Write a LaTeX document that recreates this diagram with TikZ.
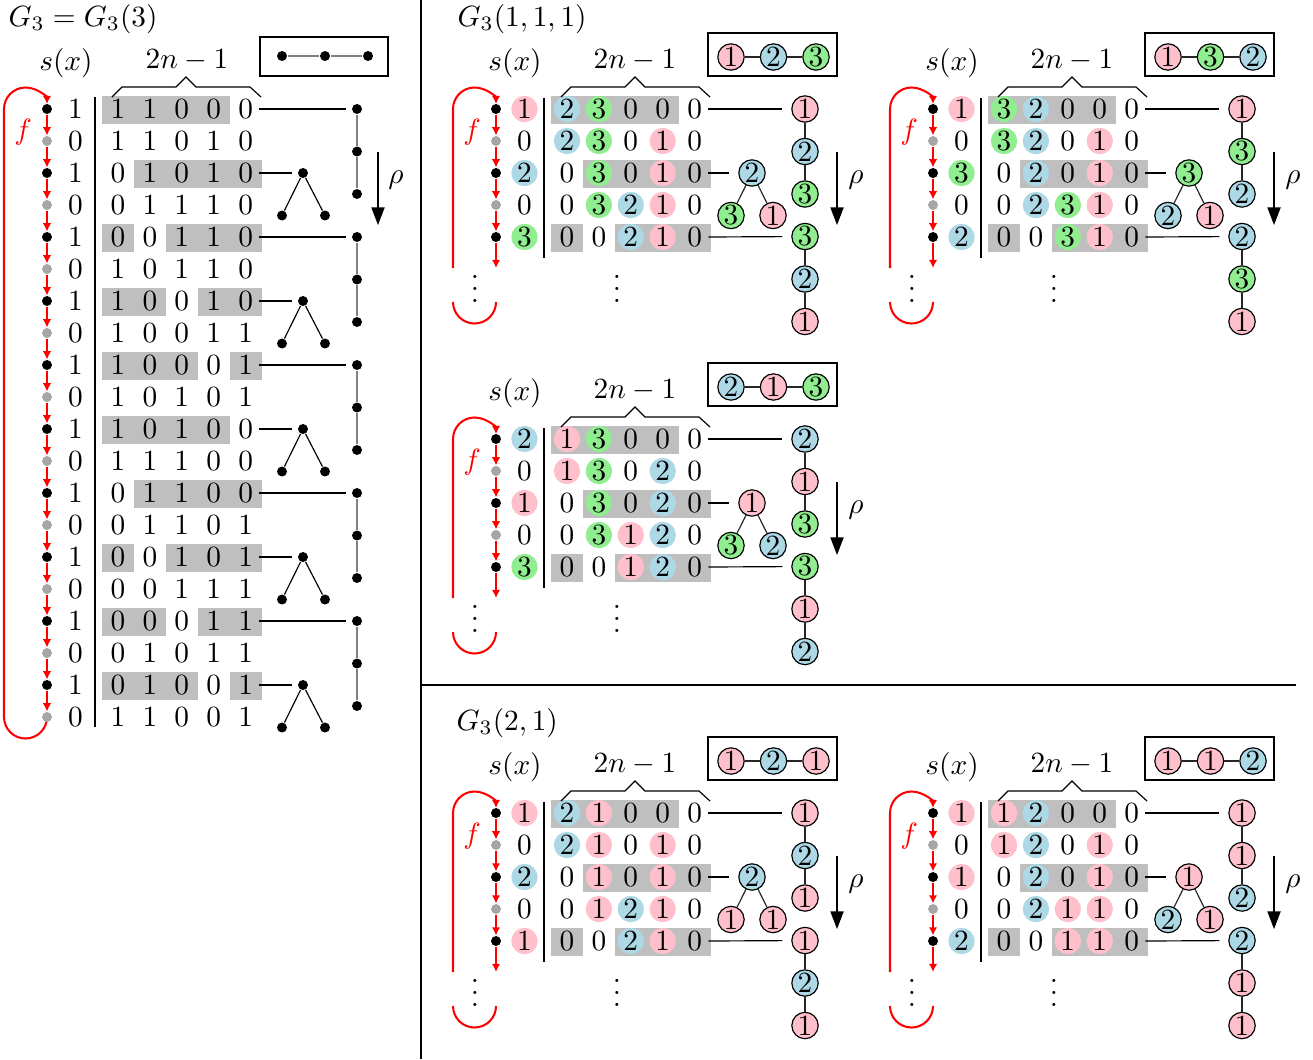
\documentclass[tikz,border=0pt]{standalone}
\usetikzlibrary{arrows.meta}
\definecolor{pinkc}{RGB}{255,192,203}
\definecolor{bluec}{RGB}{173,216,230}
\definecolor{greenc}{RGB}{144,238,144}
\pgfdeclarelayer{bg}
\pgfsetlayers{bg,main}
\newcommand\myvdots{\vbox{\baselineskip4pt\lineskiplimit0pt\hbox{.}\hbox{.}\hbox{.}}}
\tikzset{
  cell/.style={circle,inner sep=0pt,minimum size=9pt},
  tv0/.style={cell},
  tv1/.style={cell,fill=pinkc},
  tv2/.style={cell,fill=bluec},
  tv3/.style={cell,fill=greenc},
  gv1/.style={cell,draw,fill=pinkc},
  gv2/.style={cell,draw,fill=bluec},
  gv3/.style={cell,draw,fill=greenc},
  dotb/.style={circle,fill=black,inner sep=0pt,minimum size=3.4pt},
  dotg/.style={circle,fill=gray!70,inner sep=0pt,minimum size=3.4pt},
  redln/.style={red,line width=0.7pt},
  redarr/.style={red,line width=0.7pt,-{Latex[length=2.8pt,width=2.9pt]}},
  shadecell/.style={fill=gray!50},
  rhoarr/.style={-{Triangle[length=6pt,width=4.5pt]}},
  gbox/.style={thick},
  ledge/.style={gray},
  sedge/.style={black!85},
  lbl/.style={inner sep=0pt},
}

% #1 shift, #2 prefix, #3 s-list, #4 table rows, #5 path list, #6 apex, #7 left leaf, #8 right leaf, #9 box list
\newcommand\subpanel[9]{%
\begin{scope}[shift={#1}]
  \fill[shadecell] (55,13) rectangle (183,-15);
  \fill[shadecell] (87,-51) rectangle (215,-79);
  \fill[shadecell] (55,-115) rectangle (87,-143);
  \fill[shadecell] (119,-115) rectangle (215,-143);
  \foreach \row [count=\ri] in {#4}{%
    \foreach \vv [count=\ci] in \row{%
      \node[tv\vv] (#2-t\ri-\ci) at ({71+31.9*(\ci-1)},{-32*(\ri-1)}) {\vv};}}
  \foreach \vv [count=\ri] in {#3}{%
    \node[tv\vv] (#2-s\ri) at (28.5,{-32*(\ri-1)}) {\vv};}
  \node[dotb] (#2-d1) at (0,0) {};
  \node[dotg] (#2-d2) at (0,-32) {};
  \node[dotb] (#2-d3) at (0,-64) {};
  \node[dotg] (#2-d4) at (0,-96) {};
  \node[dotb] (#2-d5) at (0,-128) {};
  \coordinate (#2-end) at (0,-159);
  \begin{pgfonlayer}{bg}
    \draw[redarr] (#2-d1) -- (#2-d2);
    \draw[redarr] (#2-d2) -- (#2-d3);
    \draw[redarr] (#2-d3) -- (#2-d4);
    \draw[redarr] (#2-d4) -- (#2-d5);
    \draw[redarr] (#2-d5) -- (#2-end);
    \draw[redarr,shorten >=1.7pt] (-43,-159) -- (-43,0) arc[start angle=180,end angle=0,radius=21.5];
    \draw[redln] (-43,-193) arc[start angle=180,end angle=360,radius=21.5];
  \end{pgfonlayer}
  \node[red] (#2-f) at (-24,-23) {$f$};
  \node[lbl] (#2-vd1) at (-21,-180) {\myvdots};
  \node[lbl] (#2-vd2) at (121,-180) {\myvdots};
  \coordinate (#2-sep1) at (48,11);
  \coordinate (#2-sep2) at (48,-149);
  \draw (#2-sep1) -- (#2-sep2);
  \node (#2-sx) at (19,46) {$s(x)$};
  \node (#2-nn) at (139,49) {$2n-1$};
  \draw (65,12) -- (75,22) -- (129,22) -- (139,32) -- (149,22) -- (203,22) -- (214,12);
  \foreach \vv [count=\ri] in {#5}{%
    \node[gv\vv] (#2-p\ri) at (309,{-42.5*(\ri-1)}) {\vv};}
  \draw[sedge] (#2-p1) -- (#2-p2) -- (#2-p3);
  \draw[sedge] (#2-p4) -- (#2-p5) -- (#2-p6);
  \node[gv#6] (#2-ta) at (256,-64) {#6};
  \node[gv#7] (#2-tl) at (235,-106.5) {#7};
  \node[gv#8] (#2-tr) at (277,-106.5) {#8};
  \draw[sedge] (#2-tl) -- (#2-ta) -- (#2-tr);
  \draw[shorten >=3pt] (#2-t1-5.east) -- (#2-p1);
  \draw[shorten >=3pt] (#2-t3-5.east) -- (#2-ta);
  \draw[shorten >=3pt] (#2-t5-5.east) -- (#2-p4);
  \foreach \vv [count=\ri] in {#9}{%
    \node[gv\vv] (#2-b\ri) at ({235+42.5*(\ri-1)},52) {\vv};}
  \draw[sedge] (#2-b1) -- (#2-b2) -- (#2-b3);
  \draw[gbox] (212,33) rectangle (341,76);
  \coordinate (#2-r1) at (341,-43);
  \coordinate (#2-r2) at (341,-116);
  \draw[rhoarr] (#2-r1) -- (#2-r2);
  \node (#2-rho) at (360,-71) {$\rho$};
\end{scope}}

\begin{document}
\begin{tikzpicture}[x=0.3413pt,y=0.3413pt]
\useasboundingbox (0,0) rectangle (1313,-1059);
\node[lbl,anchor=base west] (T1) at (8,-26) {$G_3 = G_3(3)$};
\node[lbl,anchor=base west] (T2) at (457,-26) {$G_3(1,1,1)$};
\node[lbl,anchor=base west] (T3) at (456,-730) {$G_3(2,1)$};
\coordinate (V1) at (421,0);
\coordinate (V2) at (421,-1059);
\draw (V1) -- (V2);
\coordinate (H1) at (421,-685);
\coordinate (H2) at (1296,-685);
\draw (H1) -- (H2);

% ---------- left panel ----------
\begin{scope}[shift={(47,-109)}]
  \foreach \ri/\xa/\xb in {1/55/183, 3/87/215, 5/55/87, 5/119/215, 7/55/119, 7/151/215, 9/55/151, 9/183/215, 11/55/183, 13/87/215, 15/55/87, 15/119/215, 17/55/119, 17/151/215, 19/55/151, 19/183/215}{%
    \fill[shadecell] (\xa,{-32*(\ri-1)+13}) rectangle (\xb,{-32*(\ri-1)-15});}
  \foreach \row [count=\ri] in {{1,1,0,0,0},{1,1,0,1,0},{0,1,0,1,0},{0,1,1,1,0},{0,0,1,1,0},{1,0,1,1,0},{1,0,0,1,0},{1,0,0,1,1},{1,0,0,0,1},{1,0,1,0,1},{1,0,1,0,0},{1,1,1,0,0},{0,1,1,0,0},{0,1,1,0,1},{0,0,1,0,1},{0,0,1,1,1},{0,0,0,1,1},{0,1,0,1,1},{0,1,0,0,1},{1,1,0,0,1}}{%
    \foreach \vv [count=\ci] in \row{%
      \node[tv0] (L-t\ri-\ci) at ({71+31.9*(\ci-1)},{-32*(\ri-1)}) {\vv};}}
  \foreach \ri in {1,...,20}{%
    \ifodd\ri\relax
      \node[tv0] (L-s\ri) at (28.5,{-32*(\ri-1)}) {1};
      \node[dotb] (L-d\ri) at (0,{-32*(\ri-1)}) {};
    \else
      \node[tv0] (L-s\ri) at (28.5,{-32*(\ri-1)}) {0};
      \node[dotg] (L-d\ri) at (0,{-32*(\ri-1)}) {};
    \fi}
  \begin{pgfonlayer}{bg}
    \foreach \ri in {1,...,19}{%
      \pgfmathtruncatemacro\nx{\ri+1}
      \draw[redarr] (L-d\ri) -- (L-d\nx);}
    \draw[redarr,shorten >=1.7pt] (0,-608) arc[start angle=0,end angle=-180,radius=21.5] -- (-43,0) arc[start angle=180,end angle=0,radius=21.5];
  \end{pgfonlayer}
  \node[red] (L-f) at (-24,-23) {$f$};
  \coordinate (L-sep1) at (48,12);
  \coordinate (L-sep2) at (48,-618);
  \draw (L-sep1) -- (L-sep2);
  \node (L-sx) at (19,46) {$s(x)$};
  \node (L-nn) at (140,49) {$2n-1$};
  \draw (65,12) -- (75,22) -- (129,22) -- (139,32) -- (149,22) -- (203,22) -- (214,12);
  \foreach \k in {0,...,4}{%
    \pgfmathtruncatemacro\rr{4*\k+1}
    \node[dotb] (L-p\k-1) at (310,{-128*\k}) {};
    \node[dotb] (L-p\k-2) at (310,{-128*\k-42.5}) {};
    \node[dotb] (L-p\k-3) at (310,{-128*\k-85}) {};
    \draw[ledge] (L-p\k-1) -- (L-p\k-2) -- (L-p\k-3);
    \draw[shorten >=2pt] (L-t\rr-5.east) -- (L-p\k-1);}
  \foreach \k in {0,...,4}{%
    \pgfmathtruncatemacro\rr{4*\k+3}
    \node[dotb] (L-a\k) at (256,{-128*\k-64}) {};
    \node[dotb] (L-l\k) at (235,{-128*\k-106.5}) {};
    \node[dotb] (L-m\k) at (278,{-128*\k-106.5}) {};
    \draw (L-l\k) -- (L-a\k) -- (L-m\k);
    \draw[shorten >=2pt] (L-t\rr-5.east) -- (L-a\k);}
  \node[dotb] (L-b1) at (235,53) {};
  \node[dotb] (L-b2) at (278,53) {};
  \node[dotb] (L-b3) at (321,53) {};
  \draw[ledge] (L-b1) -- (L-b2) -- (L-b3);
  \draw[gbox] (213,33) rectangle (341,72);
  \coordinate (L-r1) at (331,-43);
  \coordinate (L-r2) at (331,-116);
  \draw[rhoarr] (L-r1) -- (L-r2);
  \node (L-rho) at (349,-71) {$\rho$};
\end{scope}

% ---------- sub panels ----------
\subpanel{(496,-109)}{A}{1,0,2,0,3}{{2,3,0,0,0},{2,3,0,1,0},{0,3,0,1,0},{0,3,2,1,0},{0,0,2,1,0}}{1,2,3,3,2,1}{2}{3}{1}{1,2,3}
\subpanel{(933,-109)}{B}{1,0,3,0,2}{{3,2,0,0,0},{3,2,0,1,0},{0,2,0,1,0},{0,2,3,1,0},{0,0,3,1,0}}{1,3,2,2,3,1}{3}{2}{1}{1,3,2}
\subpanel{(496,-439)}{C}{2,0,1,0,3}{{1,3,0,0,0},{1,3,0,2,0},{0,3,0,2,0},{0,3,1,2,0},{0,0,1,2,0}}{2,1,3,3,1,2}{1}{3}{2}{2,1,3}
\subpanel{(496,-813)}{D}{1,0,2,0,1}{{2,1,0,0,0},{2,1,0,1,0},{0,1,0,1,0},{0,1,2,1,0},{0,0,2,1,0}}{1,2,1,1,2,1}{2}{1}{1}{1,2,1}
\subpanel{(933,-813)}{E}{1,0,1,0,2}{{1,2,0,0,0},{1,2,0,1,0},{0,2,0,1,0},{0,2,1,1,0},{0,0,1,1,0}}{1,1,2,2,1,1}{1}{2}{1}{1,1,2}
\end{tikzpicture}
\end{document}
